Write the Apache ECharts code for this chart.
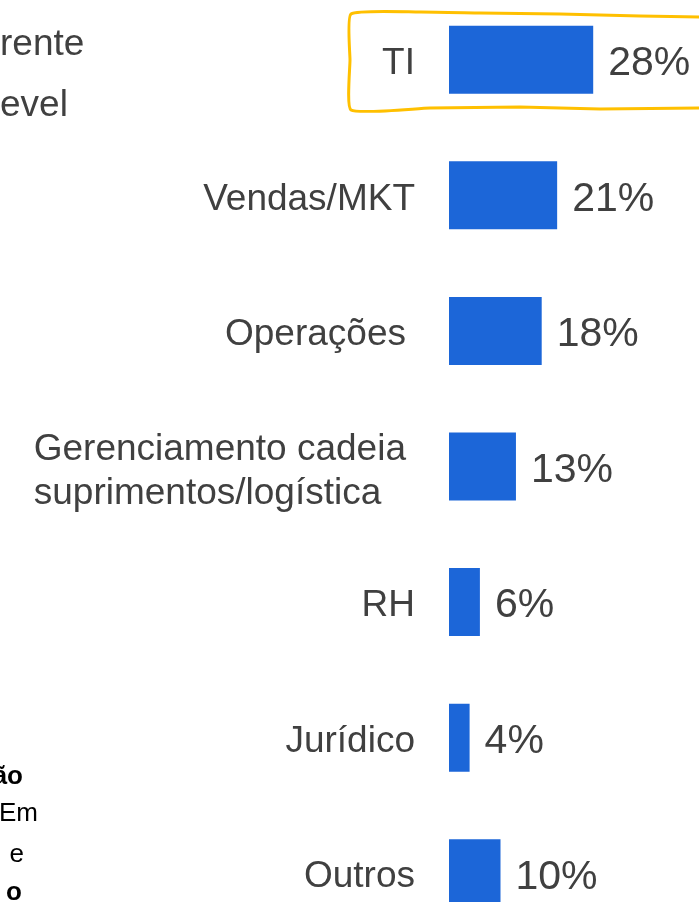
<!DOCTYPE html>
<html>
<head>
<meta charset="UTF-8">
<title>Áreas</title>
<script type="text/javascript" src="https://cdn.jsdelivr.net/npm/echarts@6/dist/echarts.min.js"></script>
<style type="text/css">
html, body {
	margin: 0;
	padding: 0;
	background-color: #FFFFFF;
}
#main {
	width: 699px;
	height: 902px;
}
</style>
</head>
<body>
	<div id="main"></div>
</body>
<script type="text/javascript">
	// dados
	var categories = ['TI', 'Vendas/MKT', 'Operações', 'Gerenciamento cadeia\nsuprimentos/logística', 'RH', 'Jurídico', 'Outros'];
	var shares = [28, 21, 18, 13, 6, 4, 10];
	// pedaços do texto do slide cortados à esquerda
	var topFragments = ['rente', 'evel'];
	var bottomFragments = ['ão', 'Em', 'e', 'o'];

	var FONT = '"Liberation Sans", Arial, sans-serif';
	var TEXT = '#404040';

	function labelFmt(v) {
		if (v.indexOf('\n') >= 0) return '{g|' + v + '}';
		if (v == 'Operações') return '{o|' + v + '}';
		return v;
	}

	function $each(arr, fn) {
		for (var i = 0; i < arr.length; i++) fn(i, arr[i]);
	}

	function buildGraphic() {
		var g = [];
		var topY = [45, 106];
		$each(topFragments, function(i, t) {
			g.push({
				type : 'text',
				x : 0,
				y : topY[i],
				style : { text : t, font : '37px ' + FONT, fill : TEXT, verticalAlign : 'middle' }
			});
		});
		var botRight = [23, 38, 24, 22];
		var botY = [777, 814, 855, 893];
		$each(bottomFragments, function(i, t) {
			var bold = (i == 0 || i == 3);
			g.push({
				type : 'text',
				x : botRight[i],
				y : botY[i],
				style : {
					text : t,
					font : (bold ? 'bold ' : '') + '26px ' + FONT,
					fill : '#000000',
					align : 'right',
					verticalAlign : 'middle'
				}
			});
		});
		// destaque amarelo desenhado à mão em volta de TI
		g.push({
			type : 'polyline',
			shape : {
				points : [[703, 17], [640, 16], [560, 14], [480, 13], [420, 12], [351, 14],
						  [350, 60], [351, 110], [430, 108], [520, 107], [600, 109], [703, 108]],
				smooth : 0.15
			},
			style : { stroke : '#FFC000', lineWidth : 3, fill : null }
		});
		return g;
	}

	var myChart = echarts.init(document.getElementById('main'));
	var option = {
		animation : false,
		grid : {
			left : 449,
			right : 44,
			top : -8,
			bottom : -39,
			outerBoundsMode : 'none'
		},
		xAxis : {
			type : 'value',
			min : 0,
			max : 40,
			show : false
		},
		yAxis : {
			type : 'category',
			inverse : true,
			data : categories,
			axisLine : { show : false },
			axisTick : { show : false },
			splitLine : { show : false },
			axisLabel : {
				margin : 34,
				fontSize : 37,
				fontFamily : FONT,
				color : TEXT,
				padding : [8, 0, 0, 0],
				formatter : labelFmt,
				rich : {
					g : {
						fontSize : 37,
						fontFamily : FONT,
						color : TEXT,
						align : 'left',
						lineHeight : 44,
						padding : [2, 9, 0, 0]
					},
					o : {
						fontSize : 37,
						fontFamily : FONT,
						color : TEXT,
						padding : [0, 9, 0, 0]
					}
				}
			}
		},
		series : [ {
			type : 'bar',
			data : shares,
			barWidth : 68,
			itemStyle : { color : '#1C66D8' },
			label : {
				show : true,
				position : 'right',
				distance : 15,
				offset : [0, 4],
				fontSize : 41,
				fontFamily : FONT,
				color : TEXT,
				formatter : '{c}%'
			}
		} ],
		graphic : buildGraphic()
	};
	myChart.setOption(option);
</script>
</html>
